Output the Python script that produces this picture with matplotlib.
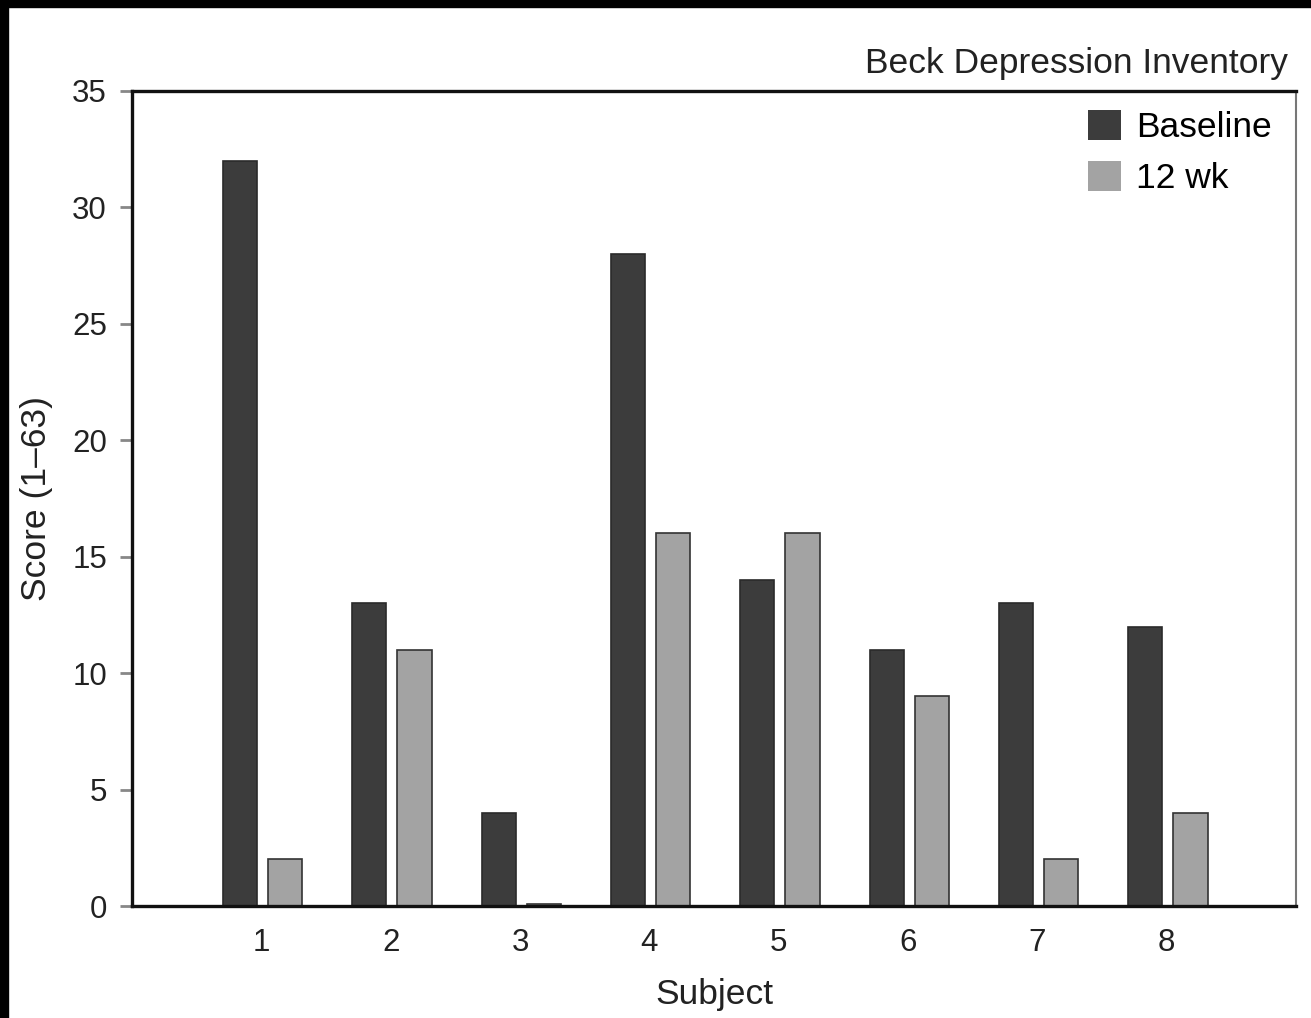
import numpy as np
import matplotlib.pyplot as plt
from matplotlib.patches import Rectangle, Patch

subjects = ['1', '2', '3', '4', '5', '6', '7', '8']
baseline = [32, 13, 4, 28, 14, 11, 13, 12]
week12 = [2, 11, 0.1, 16, 16, 9, 2, 4]
yticks = [0, 5, 10, 15, 20, 25, 30, 35]

plt.rcParams['font.family'] = ['Liberation Sans', 'DejaVu Sans']

dark = '#3c3c3c'
light = '#a3a3a3'

fig = plt.figure(figsize=(13.11, 10.18), dpi=100)
ax = fig.add_axes([132 / 1311, 1 - 906 / 1018, (1296 - 132) / 1311, (906 - 91) / 1018])

x = np.arange(1, len(subjects) + 1)
w = 0.265
ax.bar(x - 0.165, baseline, w, color=dark, edgecolor='#2a2a2a', linewidth=1.2)
ax.bar(x + 0.185, week12, w, color=light, edgecolor='#333333', linewidth=1.2)

ax.set_xlim(0, 9)
ax.set_ylim(0, 35)
ax.set_xticks(x)
ax.set_xticklabels(subjects)
ax.set_yticks(yticks)
ax.tick_params(axis='x', length=0, labelsize=22.5, pad=16, colors='#222222')
ax.tick_params(axis='y', length=9, width=2, color='#888888', labelsize=22.5, pad=9, labelcolor='#222222')

for side in ['left', 'bottom', 'top']:
    ax.spines[side].set_linewidth(2.4)
    ax.spines[side].set_color('#111111')
ax.spines['right'].set_linewidth(1.5)
ax.spines['right'].set_color('#777777')

ax.set_xlabel('Subject', fontsize=25.5, color='#222222', labelpad=14)
ax.set_ylabel('Score (1\u201363)', fontsize=25.5, color='#222222', labelpad=14)

fig.text(1288 / 1311, 1 - 63 / 1018, 'Beck Depression Inventory', ha='right', va='center',
         fontsize=25.5, color='#222222')

handles = [Patch(facecolor=dark, edgecolor='none', label='Baseline'),
           Patch(facecolor=light, edgecolor='none', label='12 wk')]
ax.legend(handles=handles, loc='upper right', bbox_to_anchor=(1272 / 1311, 1 - 110 / 1018),
          bbox_transform=fig.transFigure, frameon=False, fontsize=25.5,
          handlelength=0.93, handleheight=0.93, handletextpad=0.42,
          labelspacing=0.47, borderaxespad=0, borderpad=0)

# black border strips on the top and left of the scan
fig.patches.append(Rectangle((0, 1 - 7 / 1018), 1, 7 / 1018, transform=fig.transFigure,
                             color='black', zorder=10))
fig.patches.append(Rectangle((0, 0), 8 / 1311, 1, transform=fig.transFigure,
                             color='black', zorder=10))

fig.savefig('out.png', dpi=100)
